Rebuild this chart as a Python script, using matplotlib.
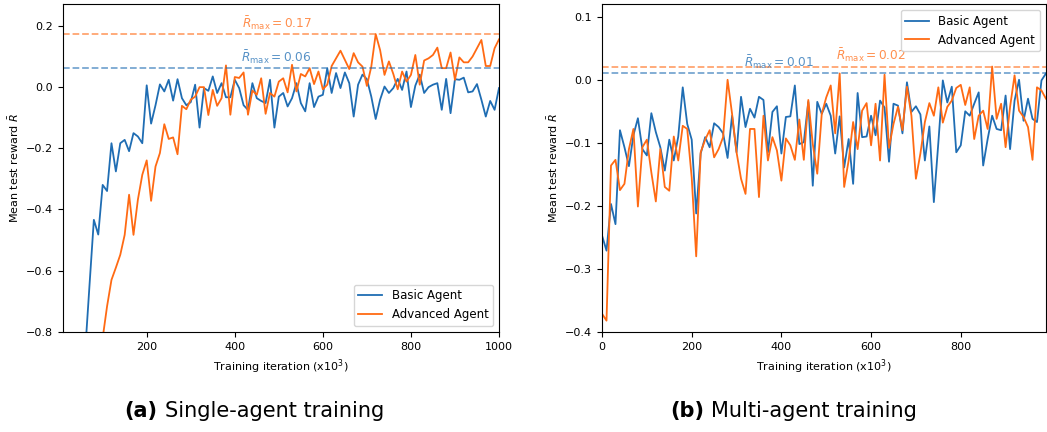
import numpy as np
import matplotlib
matplotlib.use("Agg")
import matplotlib.pyplot as plt

# Data
single_x_basic = np.arange(60, 1001, 10)
single_basic = [
    -0.87, -0.65, -0.434, -0.482, -0.32, -0.34, -0.184, -0.276, -0.184, -0.173,
    -0.21, -0.151, -0.162, -0.184, 0.005, -0.12, -0.06, 0.008, -0.015, 0.023,
    -0.045, 0.025, -0.037, -0.06, -0.05, 0.007, -0.133, -0.004, -0.013, 0.034,
    -0.02, 0.012, -0.034, -0.034, 0.023, -0.004, -0.06, -0.075, 0.012, -0.037,
    -0.046, -0.053, 0.023, -0.133, -0.032, -0.02, -0.064, -0.037, 0.012, -0.053,
    -0.08, 0.012, -0.066, -0.032, -0.026, 0.06, -0.02, 0.045, -0.004, 0.047,
    0.012, -0.097, 0.007, 0.04, 0.025, -0.032, -0.105, -0.042, 0.001, -0.02,
    -0.004, 0.026, -0.01, 0.05, -0.066, 0.004, 0.04, -0.02, -0.001, 0.007,
    0.012, -0.075, 0.026, -0.086, 0.025, 0.023, 0.03, -0.018, -0.015, 0.009,
    -0.042, -0.097, -0.046, -0.075, -0.004,
]
single_x_adv = np.arange(100, 1001, 10)
single_adv = [
    -0.82, -0.716, -0.63, -0.59, -0.548, -0.483, -0.352, -0.483, -0.368, -0.287,
    -0.24, -0.372, -0.26, -0.216, -0.122, -0.17, -0.165, -0.22, -0.062, -0.073,
    -0.042, -0.032, -0.001, -0.001, -0.092, -0.01, -0.062, -0.037, 0.07, -0.091,
    0.032, 0.029, 0.047, -0.091, -0.012, -0.026, 0.028, -0.088, -0.02, -0.032,
    0.017, 0.028, -0.018, 0.072, -0.015, 0.042, 0.034, 0.061, 0.009, 0.05,
    -0.008, 0.007, 0.068, 0.093, 0.118, 0.088, 0.058, 0.11, 0.08, 0.066,
    0.003, 0.066, 0.172, 0.12, 0.039, 0.083, 0.042, -0.008, 0.05, 0.017,
    0.039, 0.104, 0.007, 0.086, 0.093, 0.104, 0.128, 0.061, 0.061, 0.112,
    0.023, 0.096, 0.08, 0.08, 0.099, 0.126, 0.153, 0.068, 0.068, 0.126,
    0.155,
]

multi_x = np.arange(0, 991, 10)
multi_basic = [
    -0.247, -0.271, -0.197, -0.229, -0.08, -0.107, -0.137, -0.088, -0.061, -0.11,
    -0.12, -0.053, -0.083, -0.107, -0.144, -0.095, -0.128, -0.09, -0.012, -0.07,
    -0.095, -0.212, -0.117, -0.091, -0.107, -0.069, -0.075, -0.085, -0.124, -0.057,
    -0.115, -0.027, -0.075, -0.046, -0.06, -0.027, -0.032, -0.115, -0.051, -0.042,
    -0.117, -0.059, -0.058, -0.009, -0.102, -0.099, -0.035, -0.168, -0.035, -0.054,
    -0.038, -0.057, -0.117, -0.058, -0.139, -0.094, -0.165, -0.021, -0.091, -0.09,
    -0.057, -0.088, -0.033, -0.044, -0.13, -0.038, -0.041, -0.085, -0.004, -0.051,
    -0.042, -0.055, -0.128, -0.074, -0.194, -0.1, -0.001, -0.036, -0.011, -0.115,
    -0.104, -0.05, -0.057, -0.038, -0.02, -0.136, -0.094, -0.057, -0.078, -0.08,
    -0.025, -0.11, -0.033, 0.0, -0.065, -0.03, -0.062, -0.067, -0.001, 0.01,
]
multi_adv = [
    -0.371, -0.382, -0.136, -0.127, -0.175, -0.165, -0.11, -0.078, -0.201, -0.107,
    -0.095, -0.147, -0.193, -0.11, -0.17, -0.176, -0.09, -0.128, -0.073, -0.078,
    -0.155, -0.28, -0.115, -0.095, -0.08, -0.123, -0.11, -0.091, 0.0, -0.054,
    -0.115, -0.157, -0.181, -0.078, -0.078, -0.186, -0.057, -0.128, -0.091, -0.112,
    -0.16, -0.093, -0.104, -0.127, -0.063, -0.127, -0.032, -0.102, -0.149, -0.054,
    -0.028, -0.009, -0.085, 0.01, -0.17, -0.128, -0.067, -0.11, -0.049, -0.037,
    -0.104, -0.038, -0.128, 0.008, -0.108, -0.07, -0.043, -0.08, -0.011, -0.057,
    -0.157, -0.117, -0.067, -0.037, -0.057, -0.012, -0.068, -0.043, -0.033, -0.013,
    -0.008, -0.04, -0.012, -0.094, -0.057, -0.049, -0.078, 0.021, -0.062, -0.038,
    -0.107, -0.043, 0.007, -0.049, -0.059, -0.075, -0.127, -0.012, -0.017, -0.03,
]

BLUE = '#1f6db3'
ORANGE = '#ff6a13'
FS = 8
LEG_FS = 8.5
ANN_FS = 8.7

fig = plt.figure(figsize=(10.47, 4.32), dpi=100)
ax1 = fig.add_axes([0.0602, 0.2315, 0.4164, 0.759])
ax2 = fig.add_axes([0.575, 0.2315, 0.424, 0.759])


def draw(ax, xb, yb, xa, ya, xlim, ylim, label_x, legend_loc):
    ax.plot(xb, yb, color=BLUE, lw=1.3, label='Basic Agent')
    ax.plot(xa, ya, color=ORANGE, lw=1.3, label='Advanced Agent')
    for vals, col, lx in [(yb, BLUE, label_x[0]), (ya, ORANGE, label_x[1])]:
        m = max(vals)
        ax.axhline(m, color=col, ls='--', lw=1.3, alpha=0.6)
        ax.annotate(r'$\bar{R}_{\max} = %.2f$' % m, xy=(lx, m), xytext=(0, 1.5),
                    textcoords='offset points', ha='center', va='bottom',
                    color=col, alpha=0.75, fontsize=ANN_FS)
    ax.set_xlim(*xlim)
    ax.set_ylim(*ylim)
    ax.set_xlabel('Training iteration (x10$^3$)', fontsize=FS)
    ax.set_ylabel(r'Mean test reward $\bar{R}$', fontsize=FS)
    ax.tick_params(labelsize=FS)
    ax.legend(loc=legend_loc, fontsize=LEG_FS)


draw(ax1, single_x_basic, single_basic, single_x_adv, single_adv,
     (10, 1000), (-0.8, 0.27), (495, 495), 'lower right')
ax1.set_xticks([200, 400, 600, 800, 1000])
ax1.set_yticks([-0.8, -0.6, -0.4, -0.2, 0.0, 0.2])

draw(ax2, multi_x, multi_basic, multi_x, multi_adv,
     (0, 990), (-0.4, 0.12), (394, 601), 'upper right')
ax2.set_xticks([0, 200, 400, 600, 800])
ax2.set_yticks([-0.4, -0.3, -0.2, -0.1, 0.0, 0.1])

# captions
for x0, tag, txt in [(0.119, '(a)', 'Single-agent training'),
                     (0.64, '(b)', 'Multi-agent training')]:
    t = fig.text(x0, 0.035, tag, fontsize=15, fontweight='bold',
                 ha='left', va='baseline')
    fig.text(0, 0, '')
    plt.annotate(txt, xy=(1, 0), xycoords=t, xytext=(5, 0),
                 textcoords='offset points', fontsize=15,
                 ha='left', va='bottom')

fig.savefig('out.png', dpi=100)
